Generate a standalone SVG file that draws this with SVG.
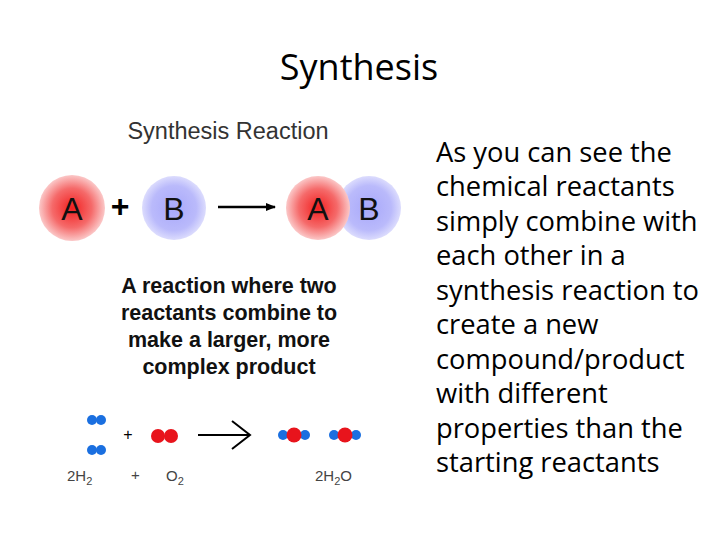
<svg xmlns="http://www.w3.org/2000/svg" width="720" height="540" viewBox="0 0 720 540">
<defs>
<radialGradient id="rg"><stop offset="0" stop-color="#f21f1f"/><stop offset="0.6" stop-color="#f56a6a"/><stop offset="1" stop-color="#fbc8c8"/></radialGradient>
<radialGradient id="bg"><stop offset="0" stop-color="#a8a8fa"/><stop offset="0.7" stop-color="#babafb"/><stop offset="1" stop-color="#dcdcfd"/></radialGradient>
<marker id="ah" markerWidth="10" markerHeight="8" refX="9" refY="4" orient="auto" markerUnits="userSpaceOnUse"><path d="M0,0 L10,4 L0,8 Z" fill="#000"/></marker>
</defs>
<style>
.s{font-family:"Liberation Sans",Arial,sans-serif}
.c{font-family:"Open Sans","Liberation Sans",sans-serif}
.big{font-size:27.3px;fill:#000}
.lbl{font-size:32px;fill:#111;text-anchor:middle}
.b{font-weight:bold;font-size:21.5px;fill:#111;text-anchor:middle}
.f{font-size:15px;fill:#444}
.h{fill:#1a6fe0}.o{fill:#e8141c}
</style>
<rect width="720" height="540" fill="#fff"/>
<text class="c" x="359" y="80" font-size="36" text-anchor="middle">Synthesis</text>
<text class="s" x="228" y="139" font-size="23.5" fill="#333" text-anchor="middle">Synthesis Reaction</text>
<g id="nodeA"><circle cx="72" cy="208" r="33" fill="url(#rg)"/><text class="s lbl" x="72" y="220">A</text></g>
<text class="s" x="120" y="217" font-size="32" font-weight="bold" text-anchor="middle">+</text>
<g id="nodeB"><circle cx="174" cy="208" r="32" fill="url(#bg)"/><text class="s lbl" x="174" y="220">B</text></g>
<g id="nodeAB"><circle cx="369" cy="208" r="32" fill="url(#bg)"/><circle cx="318" cy="208" r="32" fill="url(#rg)"/><text class="s lbl" x="318" y="220">A</text><text class="s lbl" x="369" y="220">B</text></g>
<g id="connectors">
<line x1="218" y1="207" x2="275" y2="207" stroke="#000" stroke-width="2.5" marker-end="url(#ah)"/>
<path d="M198,435 H249 M232,421 L250,435 L232,449" fill="none" stroke="#000" stroke-width="2"/>
</g>
<text class="s b" x="229" y="293">A reaction where two</text>
<text class="s b" x="229" y="320">reactants combine to</text>
<text class="s b" x="229" y="347">make a larger, more</text>
<text class="s b" x="229" y="374">complex product</text>
<g id="molecules">
<circle class="h" cx="92" cy="420" r="5"/><circle class="h" cx="101" cy="420" r="5"/>
<circle class="h" cx="92" cy="450" r="5"/><circle class="h" cx="101" cy="450" r="5"/>
<text class="s" x="128" y="440" font-size="16" text-anchor="middle">+</text>
<circle class="o" cx="158" cy="436" r="7"/><circle class="o" cx="171" cy="436" r="7"/>
<circle class="h" cx="283" cy="435" r="5"/><circle class="h" cx="305" cy="435" r="5"/><circle class="o" cx="294" cy="435" r="7.5"/>
<circle class="h" cx="334" cy="435" r="5"/><circle class="h" cx="356" cy="435" r="5"/><circle class="o" cx="345" cy="435" r="7.5"/>
</g>
<text class="s f" x="67" y="481">2H<tspan font-size="11" dy="4">2</tspan></text>
<text class="s f" x="131" y="480" font-size="11">+</text>
<text class="s f" x="166" y="481">O<tspan font-size="11" dy="4">2</tspan></text>
<text class="s f" x="315" y="481">2H<tspan font-size="11" dy="4">2</tspan><tspan dy="-4">O</tspan></text>
<g class="c big">
<text x="436" y="162">As you can see the</text>
<text x="436" y="196">chemical reactants</text>
<text x="436" y="231">simply combine with</text>
<text x="436" y="265">each other in a</text>
<text x="436" y="300">synthesis reaction to</text>
<text x="436" y="334">create a new</text>
<text x="436" y="369">compound/product</text>
<text x="436" y="403">with different</text>
<text x="436" y="438">properties than the</text>
<text x="436" y="472">starting reactants</text>
</g>
</svg>
